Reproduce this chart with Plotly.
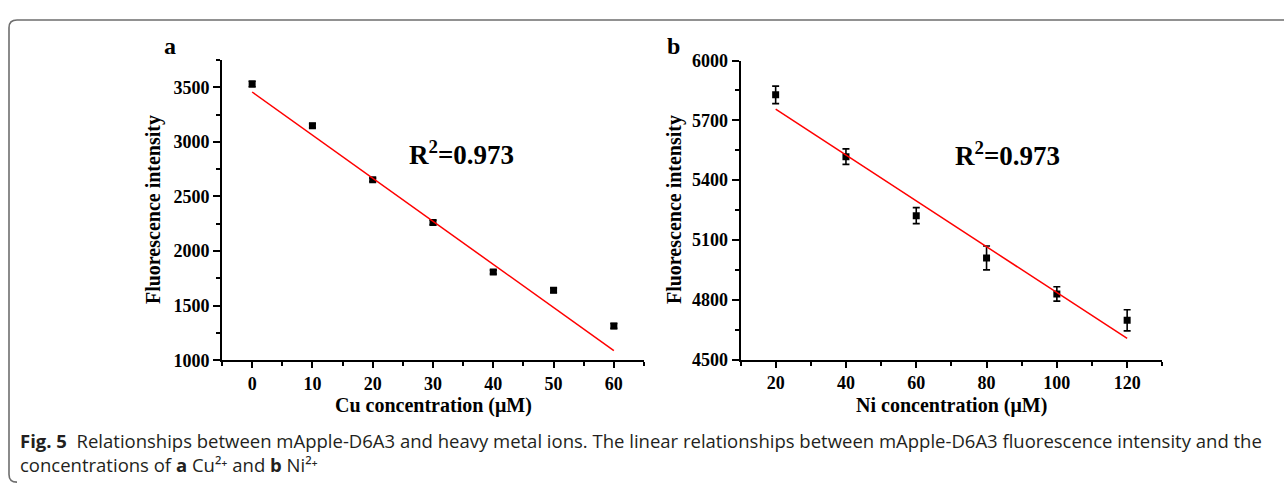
import plotly.graph_objects as go

# ---------------- data ----------------
cu_conc = [0, 10, 20, 30, 40, 50, 60]
cu_intensity = [3529, 3148, 2652, 2262, 1807, 1640, 1314]
cu_err = [25, 18, 15, 20, 18, 20, 22]
cu_fit_x = [0, 60]
cu_fit_y = [3456, 1088]

ni_conc = [20, 40, 60, 80, 100, 120]
ni_intensity = [5828, 5518, 5222, 5010, 4829, 4697]
ni_err = [44, 39, 40, 60, 36, 53]
ni_fit_x = [20, 120]
ni_fit_y = [5756, 4606]

r2_text = "R<sup>2</sup>=0.973"
y_title = "Fluorescence intensity"
cu_title = "Cu concentration (\u03bcM)"
ni_title = "Ni concentration (\u03bcM)"
caption = ("<b>Fig. 5</b>  Relationships between mApple-D6A3 and heavy metal ions. "
           "The linear relationships between mApple-D6A3 fluorescence intensity and the<br>"
           "concentrations of <b>a</b> Cu\u00b2\u207a and <b>b</b> Ni\u00b2\u207a")

# ---------------- layout helpers ----------------
W, H = 1284, 494


def fx(p):
    return p / W


def fy(p):
    return 1 - p / H


SERIF = "Liberation Serif, Times New Roman, serif"
SANS = "Open Sans, Noto Sans, DejaVu Sans, sans-serif"

fig = go.Figure()

marker = dict(symbol="square", size=7, color="black")
err_style = dict(type="data", thickness=1.6, width=3.5, color="black")

fig.add_trace(go.Scatter(x=cu_conc, y=cu_intensity, mode="markers", marker=marker,
                         error_y=dict(array=cu_err, **err_style),
                         xaxis="x", yaxis="y", showlegend=False))
fig.add_trace(go.Scatter(x=cu_fit_x, y=cu_fit_y, mode="lines",
                         line=dict(color="#ff0000", width=1.5),
                         xaxis="x", yaxis="y", showlegend=False))
fig.add_trace(go.Scatter(x=ni_conc, y=ni_intensity, mode="markers", marker=marker,
                         error_y=dict(array=ni_err, **err_style),
                         xaxis="x2", yaxis="y2", showlegend=False))
fig.add_trace(go.Scatter(x=ni_fit_x, y=ni_fit_y, mode="lines",
                         line=dict(color="#ff0000", width=1.5),
                         xaxis="x2", yaxis="y2", showlegend=False))

tickfont = dict(family=SERIF, size=18, color="black", weight="bold")
common = dict(showline=True, linecolor="black", linewidth=2, showgrid=False,
              zeroline=False, ticks="outside", tickcolor="black", tickwidth=1.6,
              tickfont=tickfont, mirror=False)

fig.update_layout(
    width=W, height=H, autosize=False,
    margin=dict(l=0, r=0, t=0, b=0),
    paper_bgcolor="white", plot_bgcolor="white",
    xaxis=dict(domain=[fx(222), fx(644)], range=[-5, 65], tick0=0, dtick=10,
               ticklen=6, minor=dict(dtick=5, ticklen=4, ticks="outside",
                                      tickcolor="black", tickwidth=1.6),
               anchor="y", **common),
    yaxis=dict(domain=[fy(365), fy(52)], range=[1000, 3750], tick0=1000, dtick=500,
               ticklen=7, minor=dict(dtick=250, ticklen=4, ticks="outside",
                                      tickcolor="black", tickwidth=1.6),
               anchor="x", **common),
    xaxis2=dict(domain=[fx(740.5), fx(1162.3)], range=[10, 130], tick0=20, dtick=20,
                ticklen=6, minor=dict(tick0=10, dtick=10, ticklen=4, ticks="outside",
                                       tickcolor="black", tickwidth=1.6),
                anchor="y2", **common),
    yaxis2=dict(domain=[fy(364.3), fy(52.7)], range=[4500, 6000], tick0=4500, dtick=300,
                ticklen=7, minor=dict(dtick=150, ticklen=4, ticks="outside",
                                       tickcolor="black", tickwidth=1.6),
                anchor="x2", **common),
)

ann = []


def add_text(text, x, y, font, xref="paper", yref="paper", xanchor="center", angle=0):
    ann.append(dict(text=text, x=x, y=y, xref=xref, yref=yref, showarrow=False,
                    xanchor=xanchor, yanchor="middle",
                    align="left" if xanchor == "left" else "center",
                    textangle=angle, font=font))


title_font = dict(family=SERIF, size=20, color="black", weight="bold")
letter_font = dict(family=SERIF, size=24, color="black", weight="bold")
r2_font = dict(family=SERIF, size=27, color="black", weight="bold")
cap_font = dict(family=SANS, size=18.5, color="#231f20")

add_text("a", fx(170), fy(38), letter_font)
add_text("b", fx(673), fy(37), letter_font)
add_text(r2_text, 34.7, 2893, r2_font, xref="x", yref="y")
add_text(r2_text, 86, 5531, r2_font, xref="x2", yref="y2")
add_text(cu_title, fx(433), fy(412), title_font)
add_text(ni_title, fx(951), fy(412), title_font)
add_text(y_title, fx(153), fy(208.5), title_font, angle=-90)
add_text(y_title, fx(674), fy(208.5), title_font, angle=-90)
add_text(caption, fx(18), fy(461), cap_font, xanchor="left")
fig.update_layout(annotations=ann)

# figure frame (top and left edges with rounded corners)
r = 8
path = (f"M {fx(W)} {fy(10.5)} L {fx(9 + r)} {fy(10.5)} "
        f"Q {fx(9)} {fy(10.5)} {fx(9)} {fy(10.5 + r)} "
        f"L {fx(9)} {fy(492 - r)} Q {fx(9)} {fy(492)} {fx(9 + r)} {fy(492)}")
fig.add_shape(type="path", path=path, xref="paper", yref="paper",
              line=dict(color="#6e6e6e", width=1.6))

post = (
    "var gd=document.getElementById('{plot_id}');"
    "gd.style.position='fixed';gd.style.top='0px';gd.style.left='0px';"
    "document.body.style.margin='0';"
    "document.documentElement.style.overflow='hidden';"
    "document.body.style.overflow='hidden';"
)
fig.write_html("out.html", config={"displayModeBar": False}, post_script=post)
